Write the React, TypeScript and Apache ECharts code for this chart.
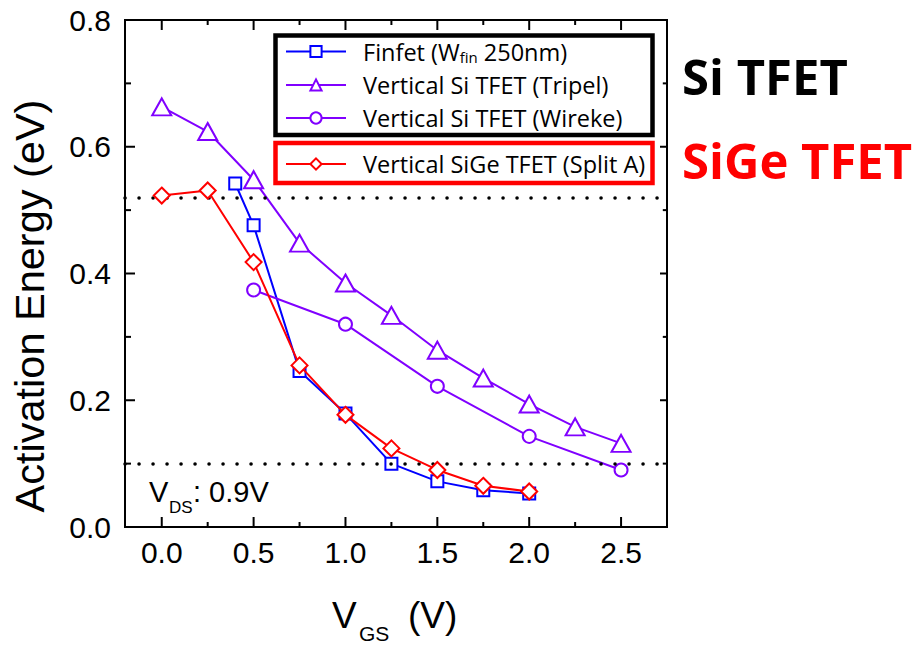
import React, { useEffect, useRef } from 'react';
import * as echarts from 'echarts';

// Series names
const FINFET = 'Finfet (Wfin 250nm)';
const TRIPEL = 'Vertical Si TFET (Tripel)';
const WIREKE = 'Vertical Si TFET (Wireke)';
const SIGE = 'Vertical SiGe TFET (Split A)';

// Activation energy (eV) versus gate voltage V_GS (V)
const finfetVgs = [0.4, 0.5, 0.75, 1.0, 1.25, 1.5, 1.75, 2.0];
const finfetEa = [0.542, 0.476, 0.246, 0.179, 0.1, 0.072, 0.058, 0.053];

const tripelVgs = [0, 0.25, 0.5, 0.75, 1.0, 1.25, 1.5, 1.75, 2.0, 2.25, 2.5];
const tripelEa = [0.663, 0.624, 0.548, 0.448, 0.385, 0.334, 0.279, 0.235, 0.194, 0.158, 0.132];

const wirekeVgs = [0.5, 1.0, 1.5, 2.0, 2.5];
const wirekeEa = [0.374, 0.32, 0.222, 0.143, 0.09];

const sigeVgs = [0, 0.25, 0.5, 0.75, 1.0, 1.25, 1.5, 1.75, 2.0];
const sigeEa = [0.523, 0.531, 0.418, 0.255, 0.177, 0.124, 0.09, 0.065, 0.056];

// Dotted reference levels (eV)
const referenceLevels = [0.515, 0.1];

// Axis ranges and ticks
const X_MIN = -0.2;
const X_MAX = 2.75;
const Y_MIN = 0;
const Y_MAX = 0.8;
const xMajorTicks = [0, 0.5, 1, 1.5, 2, 2.5];
const xMinorTicks = [0.25, 0.75, 1.25, 1.75, 2.25];
const yMajorTicks = [0, 0.2, 0.4, 0.6, 0.8];
const yMinorTicks = [0.1, 0.3, 0.5, 0.7];

const BLUE = '#0000ff';
const VIOLET = '#8000ff';
const RED = '#ff0000';
const AXIS_FONT = '"Liberation Sans", Arial, sans-serif';
const LEGEND_FONT = '"Open Sans", sans-serif';

const pairs = (xs: number[], ys: number[]) => xs.map((x, i) => [x, ys[i]]);

function lineSeries(name: string, xs: number[], ys: number[], color: string, symbol: string, size: number | number[], z: number) {
  return {
    name,
    type: 'line',
    data: pairs(xs, ys),
    symbol,
    symbolSize: size,
    showAllSymbol: true,
    z,
    lineStyle: { color, width: 2 },
    itemStyle: { color, borderColor: color, borderWidth: 2 },
  };
}

const legendText = (name: string) =>
  name === FINFET ? '{t|Finfet (W}{s|fin}{t| 250nm)}' : `{t|${name}}`;

const legendRich = {
  t: { fontSize: 23.5, lineHeight: 22, fontFamily: LEGEND_FONT, color: '#000' },
  s: { fontSize: 15, lineHeight: 12, fontFamily: LEGEND_FONT, color: '#000', padding: [10, 0, 0, 0] },
};

const baseGraphics = [
  // legend frames
  { type: 'rect', shape: { x: 275.5, y: 35.5, width: 377, height: 99.5 }, style: { fill: 'none', stroke: '#000', lineWidth: 4.5 }, z: 10 },
  { type: 'rect', shape: { x: 275.5, y: 143, width: 377, height: 40 }, style: { fill: 'none', stroke: RED, lineWidth: 4.5 }, z: 10 },
  // group labels
  { type: 'text', x: 682, y: 75.5, style: { text: 'Si TFET', fontSize: 49, fontWeight: 'bold', fontFamily: LEGEND_FONT, fill: '#000', textAlign: 'left', textVerticalAlign: 'middle' }, z: 10 },
  { type: 'text', x: 682, y: 160, style: { text: 'SiGe TFET', fontSize: 49, fontWeight: 'bold', fontFamily: LEGEND_FONT, fill: RED, textAlign: 'left', textVerticalAlign: 'middle' }, z: 10 },
  // y axis title
  { type: 'text', x: 29, y: 306, rotation: Math.PI / 2, style: { text: 'Activation Energy (eV)', fontSize: 41.5, fontFamily: AXIS_FONT, fill: '#000', textAlign: 'center', textVerticalAlign: 'middle' }, z: 10 },
  // x axis title
  { type: 'text', x: 332, y: 615, style: { text: 'V', fontSize: 37, fontFamily: AXIS_FONT, fill: '#000', textAlign: 'left', textVerticalAlign: 'middle' }, z: 10 },
  { type: 'text', x: 359, y: 633, style: { text: 'GS', fontSize: 21, fontFamily: AXIS_FONT, fill: '#000', textAlign: 'left', textVerticalAlign: 'middle' }, z: 10 },
  { type: 'text', x: 408, y: 615, style: { text: '(V)', fontSize: 37, fontFamily: AXIS_FONT, fill: '#000', textAlign: 'left', textVerticalAlign: 'middle' }, z: 10 },
  // drain bias annotation
  { type: 'text', x: 149, y: 492, style: { text: 'V', fontSize: 29, fontFamily: AXIS_FONT, fill: '#000', textAlign: 'left', textVerticalAlign: 'middle' }, z: 10 },
  { type: 'text', x: 169, y: 507.5, style: { text: 'DS', fontSize: 17, fontFamily: AXIS_FONT, fill: '#000', textAlign: 'left', textVerticalAlign: 'middle' }, z: 10 },
  { type: 'text', x: 193, y: 492, style: { text: ': 0.9V', fontSize: 29, fontFamily: AXIS_FONT, fill: '#000', textAlign: 'left', textVerticalAlign: 'middle' }, z: 10 },
];

function buildOption() {
  return {
    animation: false,
    grid: { left: 125, right: 252, top: 20, bottom: 118, show: true, borderColor: '#000', borderWidth: 2, backgroundColor: 'transparent' },
    xAxis: {
      type: 'value',
      min: X_MIN,
      max: X_MAX,
      axisLine: { show: false, onZero: false },
      axisTick: { show: false },
      axisLabel: {
        show: true,
        customValues: xMajorTicks,
        formatter: (v: number) => v.toFixed(1),
        fontSize: 30,
        fontFamily: AXIS_FONT,
        color: '#000',
        margin: 10,
      },
      splitLine: { show: false },
    },
    yAxis: {
      type: 'value',
      min: Y_MIN,
      max: Y_MAX,
      interval: 0.2,
      axisLine: { show: false, onZero: false },
      axisTick: { show: false },
      axisLabel: {
        show: true,
        formatter: (v: number) => v.toFixed(1),
        fontSize: 30,
        fontFamily: AXIS_FONT,
        color: '#000',
        margin: 14,
      },
      splitLine: { show: false },
    },
    legend: [
      {
        data: [FINFET, TRIPEL, WIREKE],
        orient: 'vertical',
        left: 285,
        top: 39,
        padding: 0,
        itemWidth: 60,
        itemHeight: 14,
        itemGap: 9,
        selectedMode: false,
        formatter: legendText,
        textStyle: { padding: [0, 0, 0, 12], rich: legendRich },
      },
      {
        data: [SIGE],
        orient: 'vertical',
        left: 285,
        top: 152,
        padding: 0,
        itemWidth: 60,
        itemHeight: 14,
        selectedMode: false,
        formatter: legendText,
        textStyle: { padding: [0, 0, 0, 12], rich: legendRich },
      },
    ],
    series: [
      {
        ...lineSeries(FINFET, finfetVgs, finfetEa, BLUE, 'emptyRect', 12, 2),
        markLine: {
          silent: true,
          symbol: 'none',
          label: { show: false },
          lineStyle: { color: '#000', width: 3.5, type: [0.1, 13.9], cap: 'round' },
          data: referenceLevels.map((v) => ({ yAxis: v })),
        },
      },
      lineSeries(TRIPEL, tripelVgs, tripelEa, VIOLET, 'emptyTriangle', [19, 17], 3),
      lineSeries(WIREKE, wirekeVgs, wirekeEa, VIOLET, 'emptyCircle', 13, 4),
      lineSeries(SIGE, sigeVgs, sigeEa, RED, 'emptyDiamond', 16, 5),
    ],
    graphic: baseGraphics,
  };
}

// Inward tick marks on all four frame sides, placed through the chart's own axis scales
function buildTicks(chart: echarts.ECharts) {
  const toPx = (x: number, y: number) => chart.convertToPixel({ xAxisIndex: 0, yAxisIndex: 0 }, [x, y]) as number[];
  const style = { stroke: '#000', lineWidth: 2 };
  const out: any[] = [];
  const xTick = (v: number, len: number) => {
    const b = toPx(v, Y_MIN);
    const t = toPx(v, Y_MAX);
    out.push({ type: 'line', shape: { x1: b[0], y1: b[1], x2: b[0], y2: b[1] - len }, style, z: 9 });
    out.push({ type: 'line', shape: { x1: t[0], y1: t[1], x2: t[0], y2: t[1] + len }, style, z: 9 });
  };
  const yTick = (v: number, len: number) => {
    const l = toPx(X_MIN, v);
    const r = toPx(X_MAX, v);
    out.push({ type: 'line', shape: { x1: l[0], y1: l[1], x2: l[0] + len, y2: l[1] }, style, z: 9 });
    out.push({ type: 'line', shape: { x1: r[0], y1: r[1], x2: r[0] - len * 0.7, y2: r[1] }, style, z: 9 });
  };
  xMajorTicks.forEach((v) => xTick(v, 10));
  xMinorTicks.forEach((v) => xTick(v, 5));
  yMajorTicks.forEach((v) => yTick(v, 10));
  yMinorTicks.forEach((v) => yTick(v, 6));
  return out;
}

export default function App() {
  const ref = useRef<HTMLDivElement>(null);
  useEffect(() => {
    if (!ref.current) return;
    const chart = echarts.init(ref.current, null, { renderer: 'svg' });
    chart.setOption(buildOption() as any);
    chart.setOption({ graphic: [...baseGraphics, ...buildTicks(chart)] } as any);
    return () => chart.dispose();
  }, []);
  return <div ref={ref} style={{ width: 919, height: 645, position: 'absolute', left: 0, top: 0 }} />;
}
